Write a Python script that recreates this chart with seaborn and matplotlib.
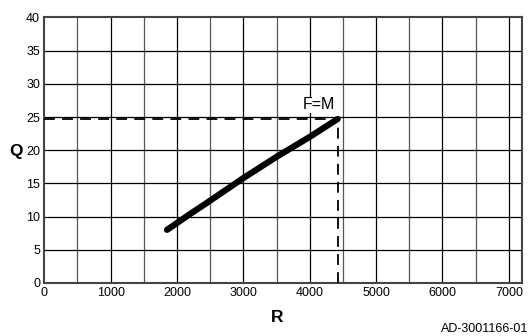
import numpy as np
import pandas as pd
import matplotlib
matplotlib.use("Agg")
import matplotlib.pyplot as plt
import seaborn as sns

# curve Q(R)
r_values = [1850, 2200, 2500, 3000, 3500, 4000, 4420]
q_values = [8.0, 10.4, 12.4, 15.8, 19.0, 22.0, 24.7]
r_ticks = [0, 1000, 2000, 3000, 4000, 5000, 6000, 7000]
q_ticks = [0, 5, 10, 15, 20, 25, 30, 35, 40]
point_r = 4420
point_q = 24.7
point_label = "F=M"

sns.set_theme(style="white")
plt.rcParams["font.family"] = ["Liberation Sans", "DejaVu Sans"]
plt.rcParams["text.color"] = "black"
plt.rcParams["xtick.color"] = "black"
plt.rcParams["ytick.color"] = "black"

df = pd.DataFrame({"R": r_values, "Q": q_values})

fig = plt.figure(figsize=(5.29, 3.36), dpi=100)
ax = fig.add_axes([0.0836, 0.158, 0.9034, 0.79])

# grid: 1000 steps darker, 500 steps grey
for x in np.arange(500, 7200, 500):
    c = "#000000" if x % 1000 == 0 else "#555555"
    ax.axvline(x, color=c, lw=0.9, zorder=1)
for y in q_ticks[1:-1]:
    ax.axhline(y, color="#000000", lw=0.9, zorder=1)

sns.lineplot(data=df, x="R", y="Q", ax=ax, color="black", lw=4.5,
             solid_capstyle="round", zorder=4)

ax.plot([0, point_r], [point_q, point_q], color="black", lw=1.3,
        dashes=(6, 4), zorder=3)
ax.plot([point_r, point_r], [0, point_q], color="black", lw=1.3,
        dashes=(6, 4), zorder=3)
ax.text(point_r - 40, point_q + 1.0, point_label, ha="right", va="bottom",
        fontsize=11.5, zorder=5,
        bbox=dict(facecolor="white", edgecolor="none", pad=0.5))

ax.set_xlim(0, 7200)
ax.set_ylim(0, 40)
ax.set_xticks(r_ticks)
ax.set_yticks(q_ticks)
ax.tick_params(axis="both", labelsize=9, length=0, pad=3)
for s in ax.spines.values():
    s.set_color("#444444")
    s.set_linewidth(1.5)

ax.set_xlabel("")
ax.set_ylabel("")
fig.text(0.017, 0.548, "Q", fontsize=12.5, fontweight="bold", va="center", ha="left")
fig.text(0.524, 0.054, "R", fontsize=12.5, fontweight="bold", va="center", ha="center")
fig.text(0.998, 0.022, "AD-3001166-01", fontsize=9, ha="right", va="center")

fig.savefig("out.png", dpi=100)
